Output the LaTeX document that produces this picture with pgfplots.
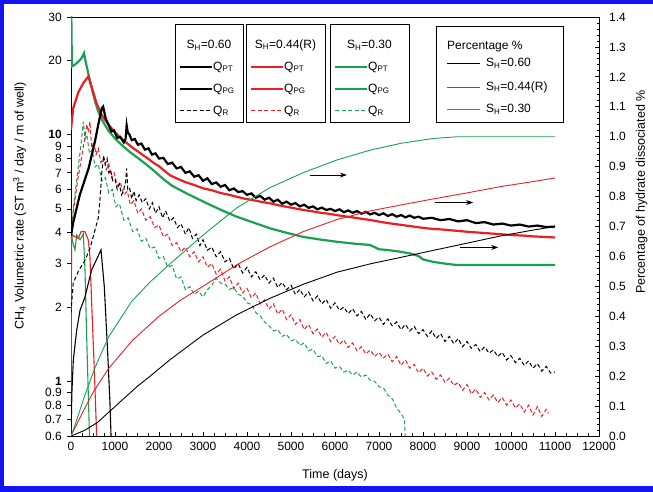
\documentclass[border=0pt]{standalone}
\usepackage{pgfplots}
\pgfplotsset{compat=1.18}
\usepackage{fontspec}
\setmainfont{Liberation Sans}
\usetikzlibrary{arrows.meta}
\definecolor{cgreen}{RGB}{25,160,80}
\definecolor{cred}{RGB}{235,30,35}
\definecolor{cblue}{RGB}{20,20,240}

\pgfplotstableread{
x y
0 3.9
50 4.4
200 5.7
400 7.3
545 9.4
620 11.0
700 12.8
730 13.0
790 11.6
850 11.0
920 10.3
980 10.4
1050 9.7
1120 9.8
1200 9.3
1240 9.6
1265 10.9
1290 10.2
1330 10.0
1380 9.5
1450 9.6
1520 9.1
1600 9.2
1680 8.7
1760 8.8
1840 8.3
1920 8.4
2000 8.0
2100 8.05
2200 7.6
2300 7.7
2400 7.3
2500 7.4
2600 7.0
2700 7.1
2800 6.75
2900 6.85
3000 6.5
3100 6.65
3200 6.3
3300 6.4
3400 6.15
3500 6.25
3600 5.95
3700 6.05
3800 5.85
3900 5.9
4000 5.7
4100 5.78
4200 5.55
4300 5.65
4400 5.45
4500 5.55
4600 5.35
4700 5.45
4800 5.25
4900 5.35
5000 5.2
5100 5.28
5200 5.12
5300 5.2
5400 5.05
5500 5.12
5600 4.98
5700 5.06
5800 4.95
5900 5.0
6000 4.9
6100 4.98
6200 4.85
6300 4.93
6400 4.82
6500 4.9
6600 4.78
6700 4.86
6800 4.75
6900 4.82
7000 4.72
7100 4.8
7200 4.68
7300 4.76
7400 4.65
7500 4.72
7600 4.62
7700 4.7
7800 4.6
7900 4.65
8000 4.56
8200 4.6
8400 4.5
8600 4.55
8800 4.45
9000 4.5
9200 4.38
9400 4.42
9600 4.32
9800 4.36
10000 4.28
10200 4.32
10400 4.24
10600 4.28
10800 4.22
11000 4.24
}\blackPT

\pgfplotstableread{
x y
0 0.6
20 0.9
53 1.22
129 1.61
205 1.94
318 2.20
470 2.83
682 3.41
757 2.42
834 1.30
886 0.814
910 0.6
}\blackPG

\pgfplotstableread{
x y
0 1.9
50 2.5
170 2.8
320 3.1
430 3.45
545 4.1
620 4.6
660 5.5
700 7.0
740 8.2
780 7.6
820 8.0
860 7.0
900 7.2
950 6.5
1000 6.6
1050 6.0
1100 6.3
1150 5.7
1200 6.0
1240 6.4
1265 7.3
1290 6.0
1330 6.1
1380 5.5
1430 5.9
1480 5.4
1550 5.7
1620 5.3
1700 5.5
1780 5.0
1850 5.3
1920 4.8
2000 5.1
2080 4.6
2150 4.9
2250 4.45
2330 4.6
2420 4.2
2500 4.35
2600 3.95
2680 4.2
2760 3.8
2850 3.95
2930 3.55
3000 3.75
3100 3.4
3200 3.5
3300 3.2
3400 3.35
3500 3.05
3600 3.15
3700 2.85
3800 3.0
3900 2.75
4000 2.9
4100 2.65
4200 2.78
4300 2.58
4400 2.7
4500 2.5
4600 2.62
4700 2.4
4800 2.52
4900 2.35
5000 2.45
5100 2.25
5200 2.36
5300 2.2
5400 2.3
5500 2.12
5600 2.22
5700 2.06
5800 2.15
5900 1.98
6000 2.08
6100 1.94
6200 2.0
6300 1.88
6400 1.97
6500 1.84
6600 1.92
6700 1.78
6800 1.88
6900 1.76
7000 1.82
7100 1.7
7200 1.79
7300 1.68
7400 1.74
7500 1.62
7600 1.7
7700 1.6
7800 1.67
7900 1.56
8000 1.62
8100 1.52
8200 1.6
8300 1.49
8400 1.56
8500 1.45
8600 1.52
8700 1.42
8800 1.49
8900 1.38
9000 1.45
9100 1.36
9200 1.41
9300 1.32
9400 1.38
9500 1.3
9600 1.34
9700 1.26
9800 1.31
9900 1.22
10000 1.27
10100 1.19
10200 1.24
10300 1.16
10400 1.21
10500 1.13
10600 1.18
10700 1.1
10800 1.15
10900 1.08
11000 1.09
}\blackR

\pgfplotstableread{
x y
0 10.5
50 12.8
170 14.9
280 16.2
394 17.2
470 15.6
580 13.4
700 12.0
850 11.0
1000 10.2
1100 9.8
1200 9.45
1300 9.15
1400 8.85
1500 8.6
1620 8.3
1750 8.0
1870 7.7
2000 7.45
2120 7.15
2250 6.85
2400 6.65
2600 6.42
2800 6.25
3000 6.06
3200 5.95
3400 5.8
3600 5.7
3765 5.6
3950 5.5
4150 5.42
4350 5.33
4523 5.27
4700 5.18
4900 5.1
5100 5.02
5280 4.95
5450 4.9
5650 4.83
5850 4.78
6038 4.72
6200 4.67
6400 4.62
6600 4.56
6795 4.51
7000 4.44
7200 4.38
7450 4.32
7700 4.26
7950 4.2
8200 4.15
8400 4.13
8600 4.1
8800 4.07
9000 4.04
9250 4.01
9500 3.98
9750 3.95
10000 3.92
10250 3.9
10500 3.87
10750 3.85
11000 3.83
}\redPT

\pgfplotstableread{
x y
0 0.6
12 3.7
30 3.92
100 3.85
167 3.8
230 4.05
318 4.04
394 3.74
430 3.2
470 2.07
530 1.11
583 0.6
}\redPG

\pgfplotstableread{
x y
0 3.8
60 5.0
150 6.5
250 8.3
320 9.8
360 11.0
400 10.2
430 11.3
470 8.8
520 9.4
570 8.3
620 8.8
680 7.7
740 8.1
800 7.2
860 7.6
920 6.7
980 7.0
1050 6.2
1120 6.4
1200 5.7
1280 5.9
1350 5.2
1430 5.4
1520 4.8
1600 5.0
1700 4.5
1800 4.65
1900 4.2
2000 4.3
2100 3.85
2200 3.95
2300 3.55
2400 3.65
2500 3.35
2600 3.5
2700 3.2
2800 3.35
2900 3.05
3000 3.2
3100 2.9
3200 3.0
3300 2.72
3400 2.85
3500 2.55
3600 2.65
3700 2.38
3800 2.5
3900 2.28
4000 2.38
4100 2.18
4200 2.28
4300 2.06
4400 2.14
4500 1.96
4600 2.06
4700 1.87
4800 1.96
4900 1.78
5000 1.86
5100 1.7
5200 1.78
5300 1.62
5400 1.7
5500 1.56
5600 1.63
5700 1.51
5800 1.58
5900 1.45
6000 1.52
6100 1.41
6200 1.47
6300 1.37
6400 1.43
6500 1.33
6600 1.38
6700 1.29
6800 1.34
6900 1.26
7000 1.31
7100 1.24
7200 1.29
7300 1.2
7400 1.26
7500 1.16
7600 1.22
7700 1.13
7800 1.17
7900 1.08
8000 1.13
8100 1.05
8200 1.09
8300 1.02
8400 1.06
8500 0.99
8600 1.03
8700 0.96
8800 0.99
8900 0.92
9000 0.97
9100 0.89
9200 0.93
9300 0.86
9400 0.9
9500 0.84
9600 0.88
9700 0.82
9800 0.86
9900 0.8
10000 0.84
10100 0.78
10200 0.81
10300 0.75
10400 0.8
10500 0.73
10600 0.79
10700 0.72
10800 0.77
10850 0.74
}\redR

\pgfplotstableread{
x y
0 40
20 18.9
100 19.3
167 19.8
240 20.4
295 21.4
340 19.5
394 17.7
450 16.0
508 14.5
560 13.4
621 12.4
700 11.5
848 10.4
1000 9.65
1152 9.08
1340 8.5
1530 8.02
1720 7.55
1909 7.08
2100 6.6
2300 6.2
2650 5.75
3008 5.35
3380 4.98
3765 4.65
4150 4.4
4523 4.17
4900 4.0
5280 3.85
5650 3.76
6038 3.68
6400 3.62
6795 3.57
6900 3.5
7000 3.43
7174 3.41
7450 3.36
7705 3.30
7900 3.22
8000 3.12
8227 3.05
8500 3.0
8765 2.96
11000 2.96
}\greenPT

\pgfplotstableread{
x y
0 0.6
5 3.9
50 3.6
91 3.41
129 3.92
205 3.75
280 3.96
318 2.83
356 1.52
420 0.6
}\greenPG

\pgfplotstableread{
x y
0 3.5
50 5.0
150 7.0
230 9.2
280 11.3
320 9.6
360 10.0
420 8.4
480 8.7
550 7.4
620 7.6
700 6.5
780 6.7
860 5.8
940 6.0
1020 5.1
1100 5.25
1200 4.5
1300 4.6
1400 4.05
1500 4.15
1600 3.7
1700 3.8
1800 3.45
1900 3.5
2000 3.15
2100 3.2
2200 2.9
2300 2.95
2400 2.6
2500 2.65
2600 2.35
2700 2.42
2800 2.25
2900 2.32
3000 2.2
3100 2.35
3200 2.45
3300 2.62
3400 2.5
3500 2.48
3600 2.36
3700 2.4
3800 2.25
3900 2.22
4000 2.08
4100 2.05
4200 1.9
4300 1.84
4400 1.74
4500 1.68
4600 1.6
4700 1.62
4800 1.52
4900 1.55
5000 1.46
5100 1.48
5200 1.4
5300 1.43
5400 1.33
5500 1.35
5600 1.26
5700 1.27
5800 1.18
5900 1.21
6000 1.13
6100 1.15
6200 1.09
6300 1.11
6400 1.06
6500 1.09
6600 1.04
6700 1.06
6800 1.01
6900 1.0
7000 0.95
7100 0.94
7200 0.88
7300 0.85
7400 0.78
7500 0.74
7580 0.7
7600 0.55
}\greenR

\pgfplotstableread{
x y
0 0
300 0.018
600 0.045
900 0.085
1200 0.125
1500 0.165
1800 0.2
2250 0.255
3008 0.338
3765 0.405
4523 0.46
5280 0.507
6038 0.547
6795 0.575
7500 0.597
8227 0.62
8992 0.644
9750 0.668
10500 0.688
11000 0.70
}\blackP

\pgfplotstableread{
x y
0 0
100 0.03
250 0.075
500 0.145
850 0.225
1400 0.32
2000 0.40
2500 0.455
3000 0.50
3765 0.572
4523 0.632
5280 0.683
6038 0.723
6795 0.752
7500 0.772
8227 0.792
8992 0.812
9750 0.833
10500 0.85
11000 0.862
}\redP

\pgfplotstableread{
x y
0 0
100 0.04
300 0.13
550 0.23
850 0.33
1380 0.45
1800 0.515
2250 0.575
3008 0.672
3765 0.762
4523 0.83
5280 0.88
6038 0.922
6795 0.955
7500 0.978
8227 0.994
8800 1.0
11000 1.0
}\greenP

\begin{document}
\fontsize{12}{14}\selectfont
\begin{tikzpicture}[x=1pt,y=1pt]
\useasboundingbox (0,0) rectangle (653,492);
\fill[cblue] (0,0) rectangle (653,6);
\fill[cblue] (0,488) rectangle (653,492);
\fill[cblue] (0,0) rectangle (4,492);

\begin{axis}[
  at={(71pt,56pt)}, anchor=south west, scale only axis,
  width=528pt, height=419pt,
  xmin=0, xmax=12000, ymode=log, ymin=0.6, ymax=30,
  xtick=\empty,
  ytick={0.6,0.7,0.8,0.9,1,2,3,4,5,6,7,8,9,10,20,30},
  yticklabels={0.6,0.7,0.8,0.9,\textbf{1},2,3,4,5,6,7,8,9,\textbf{10},20,30},
  yminorticks=false, ytick pos=left, tick align=outside,
  major tick length=4pt,
  /pgf/number format/assume math mode=true,
  tick label style={font=\fontsize{12}{14}\selectfont},
  yticklabel style={xshift=-1pt},
  ylabel={CH\textsubscript{4} Volumetric rate (ST m\textsuperscript{3} / day / m of well)},
  ylabel style={font=\fontsize{12.5}{14}\selectfont, at={(axis description cs:-0.097,0.549)}, anchor=center},
  axis line style={line width=0.8pt},
  every tick/.style={black, line width=0.8pt},
]
\addplot[cgreen, line width=1.1pt] table[x=x,y=y] {\greenPG};
\addplot[cred, line width=1.1pt] table[x=x,y=y] {\redPG};
\addplot[black, line width=1.1pt] table[x=x,y=y] {\blackPG};
\addplot[cgreen, line width=1pt, dash pattern=on 4pt off 2.5pt] table[x=x,y=y] {\greenR};
\addplot[cred, line width=1pt, dash pattern=on 4pt off 2.5pt] table[x=x,y=y] {\redR};
\addplot[black, line width=1pt, dash pattern=on 4pt off 2.5pt] table[x=x,y=y] {\blackR};
\addplot[cgreen, line width=2.2pt] table[x=x,y=y] {\greenPT};
\addplot[cred, line width=2.2pt] table[x=x,y=y] {\redPT};
\addplot[black, line width=2.2pt] table[x=x,y=y] {\blackPT};
\end{axis}

\begin{axis}[
  at={(71pt,56pt)}, anchor=south west, scale only axis,
  width=528pt, height=419pt,
  xmin=0, xmax=12000, ymin=0, ymax=1.4,
  axis y line*=right, axis x line*=bottom,
  tick align=inside,
  major tick length=4pt, minor tick length=2.5pt,
  scaled x ticks=false, scaled y ticks=false,
  xtick={0,1000,2000,3000,4000,5000,6000,7000,8000,9000,10000,11000,12000},
  minor x tick num=3,
  ytick={0,0.1,0.2,0.3,0.4,0.5,0.6,0.7,0.8,0.9,1.0,1.1,1.2,1.3,1.4},
  minor y tick num=4,
  /pgf/number format/assume math mode=true,
  tick label style={font=\fontsize{12}{14}\selectfont},
  yticklabel style={/pgf/number format/fixed, /pgf/number format/fixed zerofill, /pgf/number format/precision=1, xshift=6pt},
  xticklabel style={/pgf/number format/1000 sep={}, yshift=-2pt},
  xlabel={Time (days)},
  xlabel style={font=\fontsize{12.5}{14}\selectfont, at={(axis description cs:0.5,-0.093)}, anchor=center},
  ylabel={Percentage of hydrate dissociated \%},
  ylabel style={font=\fontsize{12.5}{14}\selectfont, at={(axis description cs:1.0809,0.582)}, anchor=center},
  axis line style={line width=0.8pt},
  every tick/.style={black, line width=0.8pt},
]
\addplot[black, line width=0.9pt] table[x=x,y=y] {\blackP};
\addplot[cred, line width=0.9pt] table[x=x,y=y] {\redP};
\addplot[cgreen, line width=0.9pt] table[x=x,y=y] {\greenP};
\draw[-{Stealth[length=7pt,width=5pt]}, line width=0.8pt] (axis cs:5430,0.872) -- (axis cs:6270,0.872);
\draw[-{Stealth[length=7pt,width=5pt]}, line width=0.8pt] (axis cs:8270,0.780) -- (axis cs:9140,0.780);
\draw[-{Stealth[length=7pt,width=5pt]}, line width=0.8pt] (axis cs:8840,0.630) -- (axis cs:9710,0.630);
\end{axis}

% legend boxes
\begin{scope}[every node/.style={font=\fontsize{12}{14}\selectfont, inner sep=1pt}]
\draw[line width=0.8pt, fill=white] (175,370) rectangle (243,468);
\draw[line width=0.8pt, fill=white] (246,370) rectangle (325,468);
\draw[line width=0.8pt, fill=white] (330,370) rectangle (409,468);
\draw[line width=0.8pt, fill=white] (436,370) rectangle (563,466);
\node at (209,447) {S\textsubscript{H}=0.60};
\node at (285.5,447) {S\textsubscript{H}=0.44(R)};
\node at (369.5,447) {S\textsubscript{H}=0.30};
% box 1
\draw[black, line width=2.2pt] (180,425) -- (212,425);
\node[anchor=west] at (212,425) {Q\textsubscript{PT}};
\draw[black, line width=1.1pt] (180,403) -- (212,403);
\node[anchor=west] at (212,403) {Q\textsubscript{PG}};
\draw[black, line width=1pt, dash pattern=on 4pt off 2.5pt] (180,381) -- (212,381);
\node[anchor=west] at (212,381) {Q\textsubscript{R}};
% box 2
\draw[cred, line width=2.2pt] (251,425) -- (283,425);
\node[anchor=west] at (283,425) {Q\textsubscript{PT}};
\draw[cred, line width=1.1pt] (251,403) -- (283,403);
\node[anchor=west] at (283,403) {Q\textsubscript{PG}};
\draw[cred, line width=1pt, dash pattern=on 4pt off 2.5pt] (251,381) -- (283,381);
\node[anchor=west] at (283,381) {Q\textsubscript{R}};
% box 3
\draw[cgreen, line width=2.2pt] (335,425) -- (367,425);
\node[anchor=west] at (367,425) {Q\textsubscript{PT}};
\draw[cgreen, line width=1.1pt] (335,403) -- (367,403);
\node[anchor=west] at (367,403) {Q\textsubscript{PG}};
\draw[cgreen, line width=1pt, dash pattern=on 4pt off 2.5pt] (335,381) -- (367,381);
\node[anchor=west] at (367,381) {Q\textsubscript{R}};
% box 4
\node[anchor=west] at (446,445) {Percentage \%};
\draw[black, line width=0.9pt] (447,429) -- (480,429);
\node[anchor=west] at (485,429) {S\textsubscript{H}=0.60};
\draw[cred, line width=0.9pt] (447,405) -- (480,405);
\node[anchor=west] at (485,405) {S\textsubscript{H}=0.44(R)};
\draw[cgreen, line width=0.9pt] (447,383) -- (480,383);
\node[anchor=west] at (485,383) {S\textsubscript{H}=0.30};
\end{scope}
\end{tikzpicture}
\end{document}
